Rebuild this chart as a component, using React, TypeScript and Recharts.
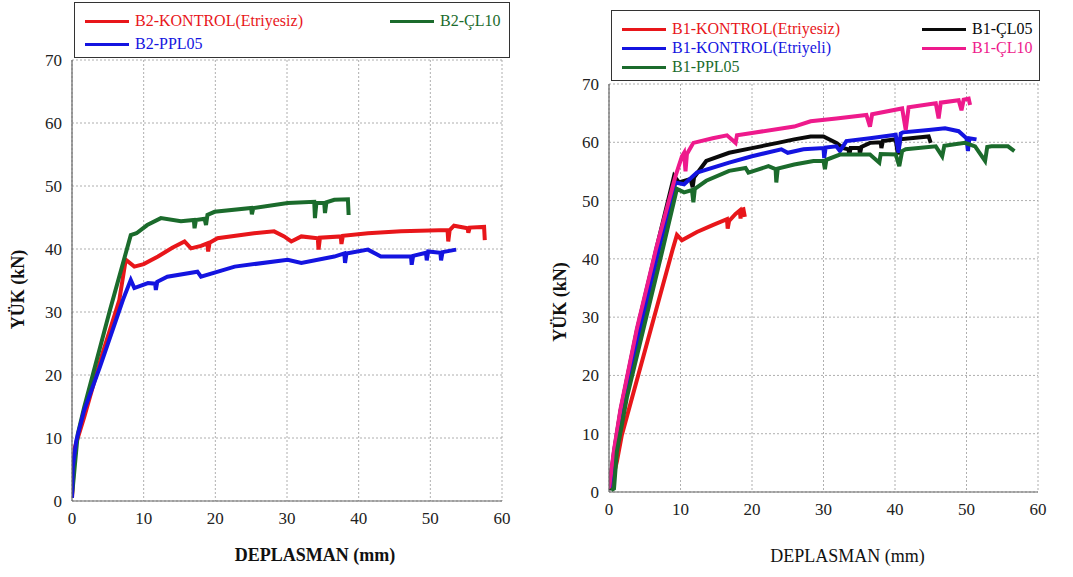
import React from 'react';
import { LineChart, Line, XAxis, YAxis, CartesianGrid, Legend } from 'recharts';

type P = [number, number];

// ---------- Left chart (B2) ----------
const b2Kontrol: P[] = [[0,0.5],[0.4,8.5],[1.7,13.3],[4,22.5],[6.6,31.9],[7.5,38.3],[8.7,37.2],[10,37.6],[12,38.8],[14,40.2],[15.7,41.2],[16.6,40.1],[18,40.5],[18.9,40.9],[19,39.6],[19.2,41],[20.3,41.7],[25.4,42.5],[28.2,42.8],[29.6,42],[30.6,41.2],[32,42],[34.3,41.7],[34.4,39.9],[34.6,41.8],[37.5,42],[37.6,40.8],[37.8,42.1],[41.3,42.5],[45.9,42.8],[52.4,43],[52.5,41.2],[52.7,43],[53.3,43.7],[55.2,43.3],[55.3,42.6],[55.5,43.4],[57.5,43.5],[57.6,41.4]];
const b2Cl10: P[] = [[0,1],[0.1,2],[0.8,10.6],[1.7,14.9],[5.3,30.3],[8.2,42.2],[9,42.5],[10.5,43.8],[12.4,44.9],[15.2,44.4],[17,44.6],[17.1,43.3],[17.3,44.6],[18.5,44.8],[18.7,43.8],[18.9,45.4],[19.9,45.9],[25,46.5],[25.1,45.5],[25.3,46.5],[30.1,47.3],[33.8,47.5],[33.9,44.9],[34.1,47.3],[35.2,47.3],[35.3,45.7],[35.5,47.4],[36.6,47.8],[38.5,47.9],[38.6,45.4]];
const b2Ppl05: P[] = [[0,0.5],[0.1,5.3],[0.6,9.6],[1.7,14.4],[3.9,21.3],[7.1,31.9],[8.2,35.1],[8.7,33.8],[10.6,34.6],[11.6,34.5],[11.7,33.5],[11.9,34.8],[13.3,35.6],[17.5,36.4],[18,35.6],[22.7,37.2],[30.1,38.3],[32,37.8],[36.6,38.8],[38,39.3],[38.1,37.8],[38.3,39.3],[41.3,39.9],[43.1,38.8],[47.3,38.8],[47.4,37.5],[47.6,38.9],[49.4,39.4],[49.5,38.2],[49.7,39.6],[51.4,39.4],[51.5,38.2],[51.7,39.5],[53.6,39.9]];

// ---------- Right chart (B1) ----------
const b1KontrolEsiz: P[] = [[0.2,0.6],[1.1,5.2],[1.8,9.8],[8.9,41.6],[9.5,44.1],[10.2,43.2],[12.3,44.6],[14.5,45.8],[16.5,46.8],[16.6,45.2],[16.8,46.5],[17.7,47.7],[18.3,48.3],[18.4,46.9],[18.5,48.4],[18.8,48.5],[19,47.2]];
const b1KontrolEli: P[] = [[0.1,0.5],[0.7,5.8],[2,15.6],[7,41.6],[9.3,53.1],[10.5,52.8],[12.3,54.8],[16.8,56.5],[20,57.6],[24.1,58.8],[25,58.2],[27.2,58.8],[30,59],[30.1,57.3],[30.3,59.1],[31.8,59.3],[32.3,58.5],[33.2,60.2],[36.5,60.7],[40.1,61.3],[40.5,58.2],[40.8,61.5],[41.1,61.7],[44.7,62.1],[47,62.4],[48.9,61.9],[50,60.7],[50.2,58.5],[50.4,60.7],[51.4,60.5]];
const b1Cl05: P[] = [[0,0.3],[0.1,1.2],[0.7,6.9],[1.6,13.9],[3.9,27.7],[6.6,41.6],[9.1,54.2],[9.8,53.1],[11.4,53.7],[11.7,52.3],[11.9,54],[13.6,56.8],[16.8,58.2],[20,59],[23.6,59.9],[25.9,60.5],[28.2,61],[30,61],[31.8,59.9],[32.8,59],[33.5,58.8],[33.6,57.8],[33.8,59],[35,59],[35.1,58],[35.3,59.2],[36.5,59.9],[38,60],[38.1,59],[38.3,60.2],[40.1,60.5],[40.4,57.9],[40.7,60.5],[44.7,61],[45,59.9]];
const b1Cl10: P[] = [[0,0.5],[0.1,1.5],[0.7,7.2],[1.6,14.2],[3.9,28],[6.6,41.8],[9.3,54.2],[10.2,57.6],[10.5,58.2],[10.7,55],[10.9,58],[11.8,59.9],[14.5,60.7],[16.5,61.2],[17.7,59.9],[17.9,61.2],[20,61.6],[25.9,62.7],[28.2,63.6],[31.8,64.1],[36,64.7],[36.5,62.7],[36.8,64.8],[41,65.8],[41.5,62.1],[41.9,66],[45.7,66.7],[46.1,64.1],[46.4,66.8],[48.9,67.2],[49.3,65.5],[49.6,67.3],[50.3,67.5],[50.5,66.4]];
const b1Ppl05: P[] = [[0.3,0.3],[0.7,0.6],[1.1,6.9],[2.5,16.2],[7.5,41.6],[9.5,52],[10.5,51.4],[11.6,51.8],[11.8,49.7],[12,52],[13.6,53.4],[16.8,55.1],[19.1,55.6],[19.5,54.8],[22.3,55.9],[23.3,55.4],[23.4,53.1],[23.6,55.5],[25.9,56.2],[28.6,56.8],[30,56.8],[30.2,55.4],[30.4,57],[32.3,57.9],[36.5,57.9],[37.8,56.5],[38,58],[40.1,57.9],[40.6,55.9],[41,58.5],[41.5,58.8],[45.7,59.3],[46.6,57.6],[46.9,59.4],[49.8,59.9],[51.2,59.3],[52.6,56.8],[52.9,59.2],[53.5,59.3],[55.8,59.3],[56.7,58.5]];

const xTicks = [0, 10, 20, 30, 40, 50, 60];
const yTicks = [0, 10, 20, 30, 40, 50, 60, 70];
const yLabel = 'YÜK (kN)';
const xLabel = 'DEPLASMAN (mm)';

const RED = '#e8161a';
const GREEN = '#1b6b2c';
const BLUE = '#1414e0';
const BLACK = '#0a0a0a';
const PINK = '#ee1a8c';

const FONT = "'Liberation Serif', serif";

const toObj = (a: P[]) => a.map(([x, y]) => ({ x, y }));

interface Series { name: string; data: P[]; color: string; col: number; row: number }

const leftSeries: Series[] = [
  { name: 'B2-KONTROL(Etriyesiz)', data: b2Kontrol, color: RED, col: 0, row: 0 },
  { name: 'B2-ÇL10', data: b2Cl10, color: GREEN, col: 1, row: 0 },
  { name: 'B2-PPL05', data: b2Ppl05, color: BLUE, col: 0, row: 1 },
];
const rightSeries: Series[] = [
  { name: 'B1-KONTROL(Etriyesiz)', data: b1KontrolEsiz, color: RED, col: 0, row: 0 },
  { name: 'B1-ÇL05', data: b1Cl05, color: BLACK, col: 1, row: 0 },
  { name: 'B1-KONTROL(Etriyeli)', data: b1KontrolEli, color: BLUE, col: 0, row: 1 },
  { name: 'B1-ÇL10', data: b1Cl10, color: PINK, col: 1, row: 1 },
  { name: 'B1-PPL05', data: b1Ppl05, color: GREEN, col: 0, row: 2 },
];

const makeLegend = (series: Series[], colX: number[], rowY: number[]) => () => (
  <div style={{ position: 'relative', width: '100%', height: '100%', boxSizing: 'border-box', border: '1.5px solid #333', background: '#fff', fontFamily: FONT }}>
    {series.map((s) => (
      <div key={s.name} style={{ position: 'absolute', left: colX[s.col], top: rowY[s.row] - 10, height: 20, display: 'flex', alignItems: 'center', whiteSpace: 'nowrap' }}>
        <div style={{ width: 44, height: 3, background: s.color }} />
        <span style={{ marginLeft: 6, fontFamily: FONT, fontSize: 16, color: s.color, lineHeight: '20px' }}>{s.name}</span>
      </div>
    ))}
  </div>
);

interface PanelProps {
  width: number; height: number;
  margin: { top: number; right: number; bottom: number; left: number };
  yAxisWidth: number;
  series: Series[];
  legend: { left: number; top: number; width: number; height: number; colX: number[]; rowY: number[] };
  xLabelBold: boolean; xLabelShift: number; xLabelDy: number; yLabelX: number; yLabelShift: number;
}

const Panel = (p: PanelProps) => (
  <LineChart width={p.width} height={p.height} margin={p.margin} style={{ fontFamily: FONT }}>
    <CartesianGrid stroke="#9a9a9a" strokeDasharray="2 2" strokeWidth={0.8} />
    <XAxis
      dataKey="x" type="number" domain={[0, 60]} ticks={xTicks} allowDataOverflow
      height={30} tickSize={0} tickMargin={11} axisLine={{ stroke: '#666', strokeWidth: 1.2 }}
      tick={{ fill: '#222', fontSize: 17, fontFamily: FONT }}
      label={{
        content: (props: any) => {
          const vb = props.viewBox;
          return (
            <text x={vb.x + vb.width / 2 + p.xLabelShift} y={vb.y + p.xLabelDy} textAnchor="middle" style={{ fontFamily: FONT }} fontSize={18} fontWeight={p.xLabelBold ? 'bold' : 'normal'} fill="#111">{xLabel}</text>
          );
        },
      }}
    />
    <XAxis xAxisId="top" orientation="top" type="number" domain={[0, 60]} ticks={xTicks} height={0} tick={false} tickLine={false} axisLine={{ stroke: '#666', strokeWidth: 1.2 }} />
    <YAxis
      type="number" domain={[0, 70]} ticks={yTicks} allowDataOverflow
      width={p.yAxisWidth} tickSize={0} tickMargin={10} axisLine={{ stroke: '#666', strokeWidth: 1.2 }}
      tick={{ fill: '#222', fontSize: 17, fontFamily: FONT }}
      label={{
        content: (props: any) => {
          const vb = props.viewBox;
          const cx = p.yLabelX;
          const cy = vb.y + vb.height / 2 + p.yLabelShift;
          return (
            <text x={cx} y={cy} transform={`rotate(-90, ${cx}, ${cy})`} textAnchor="middle" dominantBaseline="central" style={{ fontFamily: FONT }} fontSize={18} fontWeight="bold" fill="#111">{yLabel}</text>
          );
        },
      }}
    />
    <YAxis yAxisId="right" orientation="right" type="number" domain={[0, 70]} width={0} tick={false} tickLine={false} axisLine={{ stroke: '#666', strokeWidth: 1.2 }} />
    <Legend
      layout="horizontal" verticalAlign="middle" align="center"
      wrapperStyle={{ left: p.legend.left, top: p.legend.top, width: p.legend.width, height: p.legend.height }}
      content={makeLegend(p.series, p.legend.colX, p.legend.rowY)}
    />
    {p.series.map((s) => (
      <Line
        key={s.name} name={s.name} data={toObj(s.data)} dataKey="y" type="linear"
        stroke={s.color} strokeWidth={4} dot={false} activeDot={false} isAnimationActive={false}
      />
    ))}
  </LineChart>
);

export default function App() {
  return (
    <div style={{ position: 'absolute', left: 0, top: 0, width: 1073, height: 577, background: '#fff', overflow: 'hidden', fontFamily: FONT }}>
      <div style={{ position: 'absolute', left: 0, top: 0 }}>
        <Panel
          width={540} height={577}
          margin={{ top: 60, right: 38, bottom: 46, left: 0 }}
          yAxisWidth={72}
          series={leftSeries}
          legend={{ left: 74, top: 2, width: 436, height: 56, colX: [10, 315], rowY: [18, 41] }}
          xLabelBold={true} xLabelShift={28} xLabelDy={60} yLabelX={18} yLabelShift={9}
        />
      </div>
      <div style={{ position: 'absolute', left: 540, top: 0 }}>
        <Panel
          width={533} height={577}
          margin={{ top: 84, right: 35, bottom: 55, left: 0 }}
          yAxisWidth={69}
          series={rightSeries}
          legend={{ left: 71, top: 10, width: 429, height: 71, colX: [10, 310], rowY: [18, 37, 56] }}
          xLabelBold={false} xLabelShift={24} xLabelDy={70} yLabelX={20} yLabelShift={14}
        />
      </div>
    </div>
  );
}
